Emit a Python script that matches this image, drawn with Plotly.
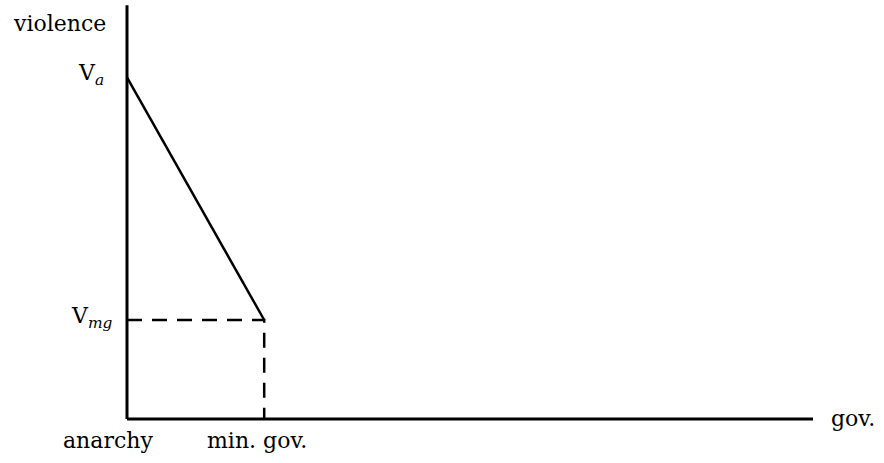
import plotly.graph_objects as go

# Data (arbitrary units)
gov_levels = [0.0, 1.0, 5.0]          # anarchy, minimal government, axis end
violence_anarchy = 3.45               # V_a
violence_min_gov = 1.0                # V_mg
violence_axis_top = 4.18
x_tick_labels = ["anarchy", "min. gov."]
y_tick_labels = ["V<sub><i>a</i></sub>", "V<sub><i>mg</i></sub>"]
axis_titles = ["gov.", "violence"]

FONT = "DejaVu Serif"
FS = 22
ink = "black"

fig = go.Figure()

# y axis line
fig.add_trace(go.Scatter(x=[gov_levels[0], gov_levels[0]], y=[0, violence_axis_top],
                         mode="lines", line=dict(color=ink, width=3), hoverinfo="skip"))
# x axis line
fig.add_trace(go.Scatter(x=[gov_levels[0], gov_levels[2]], y=[0, 0],
                         mode="lines", line=dict(color=ink, width=3), hoverinfo="skip"))
# violence decreasing line
fig.add_trace(go.Scatter(x=[gov_levels[0], gov_levels[1]], y=[violence_anarchy, violence_min_gov],
                         mode="lines", line=dict(color=ink, width=2.5), hoverinfo="skip"))
# dashed guides
fig.add_trace(go.Scatter(x=[gov_levels[0], gov_levels[1], gov_levels[1]],
                         y=[violence_min_gov, violence_min_gov, 0],
                         mode="lines", line=dict(color=ink, width=2.5, dash="15px,10px"),
                         hoverinfo="skip"))

ann = []
txt = dict(family=FONT, size=FS, color=ink)
# y tick labels
ann.append(dict(x=-0.37, y=violence_anarchy + 0.03, text=y_tick_labels[0], xanchor="left",
                yanchor="middle", font=txt))
ann.append(dict(x=-0.42, y=violence_min_gov + 0.03, text=y_tick_labels[1], xanchor="left",
                yanchor="middle", font=txt))
# x tick labels
ann.append(dict(x=gov_levels[0] - 0.14, y=-0.22, text=x_tick_labels[0], xanchor="center",
                yanchor="middle", font=txt))
ann.append(dict(x=gov_levels[1] - 0.05, y=-0.22, text=x_tick_labels[1], xanchor="center",
                yanchor="middle", font=txt))
# axis titles
ann.append(dict(x=5.29, y=0.01, text=axis_titles[0], xanchor="center", yanchor="middle", font=txt))
ann.append(dict(x=-0.49, y=3.99, text=axis_titles[1], xanchor="center", yanchor="middle", font=txt))
for a in ann:
    a.update(xref="x", yref="y", showarrow=False)

# full-figure ranges: origin at (127px, 419px), 137.2 px per x unit, 99 px per y unit
fig.update_layout(
    width=884, height=463,
    margin=dict(l=0, r=0, t=0, b=0, pad=0),
    paper_bgcolor="white", plot_bgcolor="white",
    showlegend=False,
    annotations=ann,
    xaxis=dict(range=[-127 / 137.2, (884 - 127) / 137.2], visible=False, fixedrange=True),
    yaxis=dict(range=[-(463 - 419) / 99, 419 / 99], visible=False, fixedrange=True),
)

fig.write_html("out.html", config={"displayModeBar": False},
               post_script="document.body.style.margin='0';document.body.style.overflow='hidden';")
